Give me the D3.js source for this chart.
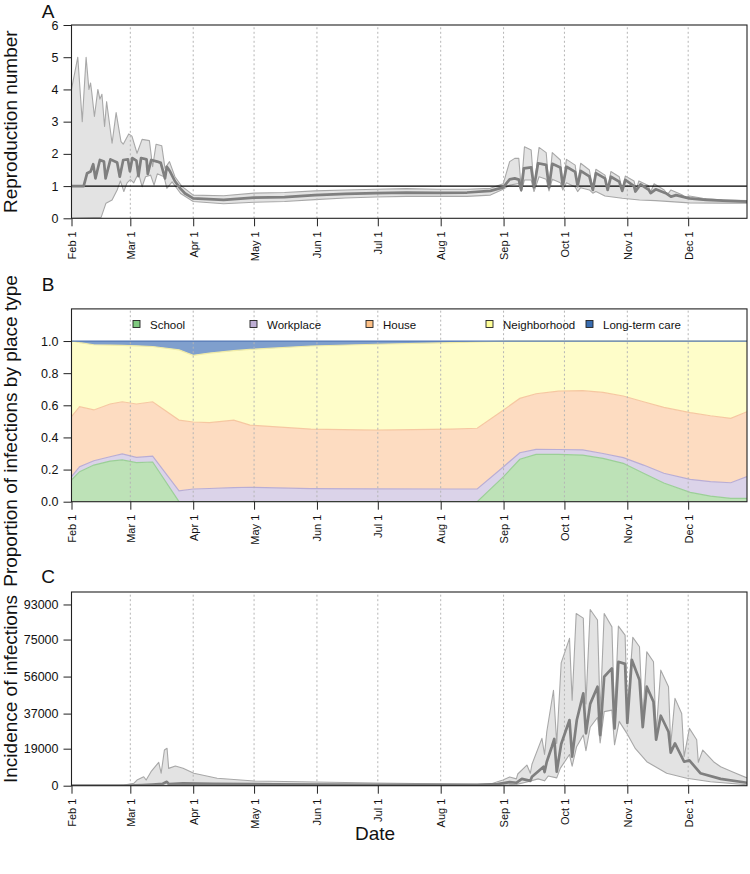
<!DOCTYPE html>
<html><head><meta charset="utf-8">
<script src="https://cdn.jsdelivr.net/npm/d3@7"></script>
<style>
body{margin:0;background:#fff}
text{font-family:"Liberation Sans",Arial,Helvetica,sans-serif;fill:#111}
</style>
</head><body>
<svg id="chart" width="750" height="874"></svg>
<script>
// ---------- data ----------
const startDay = Date.UTC(2020, 1, 1);
const lastDay = 333;
const monthLabels = ["Feb 1","Mar 1","Apr 1","May 1","Jun 1","Jul 1","Aug 1","Sep 1","Oct 1","Nov 1","Dec 1"];

// Panel A: reproduction number [day since Feb 1, value]
const rMedian = [[0,1.0],[6,1.0],[7.7,1.4],[9.4,1.45],[10.7,1.68],[11.8,1.24],[14,1.81],[16,1.76],[16.8,1.24],[19.2,1.83],[22.5,1.73],[23.8,1.29],[25.5,1.81],[27.8,1.83],[28.8,1.46],[30,1.87],[32,1.79],[33,1.31],[34.3,1.87],[37,1.83],[37.6,1.38],[39.3,1.81],[42.3,1.76],[44,1.72],[46.1,1.24],[47,1.6],[48.6,1.45],[51,1.15],[53.6,0.93],[56,0.77],[60,0.62],[75,0.57],[90,0.64],[105,0.66],[120,0.72],[135,0.76],[150,0.78],[165,0.8],[180,0.79],[195,0.8],[206.5,0.85],[212.8,0.96],[216,1.21],[218.5,1.24],[220.5,1.2],[221.7,0.88],[223,1.55],[226.6,1.58],[228,0.96],[230,1.71],[234,1.66],[235.4,0.96],[237,1.69],[241,1.58],[242.2,1.0],[244,1.6],[248.3,1.44],[249.5,1.0],[251,1.47],[255.3,1.3],[257,0.88],[258.5,1.4],[263,1.24],[264.3,0.88],[265.9,1.29],[270,1.14],[271.5,0.85],[273,1.19],[277.3,1.0],[278,0.83],[280.5,1.05],[284.6,0.88],[285.5,0.78],[288,0.9],[293,0.78],[295.5,0.67],[298,0.72],[304.6,0.62],[312.8,0.57],[321,0.55],[333,0.52]];
const rUpper = [[0,4.0],[3.1,5.0],[5.3,3.0],[7.2,5.0],[8.6,4.0],[9.4,4.2],[10,3.9],[11.3,3.16],[13,4.0],[14,3.7],[15,3.85],[16.3,2.85],[17.3,3.62],[20,2.33],[22,3.28],[24.4,2.38],[25.5,2.3],[28.2,2.62],[29.8,2.55],[32.3,2.02],[34.8,2.45],[38.4,2.41],[40,1.6],[41.7,2.3],[44.5,2.25],[46.1,1.55],[48.3,1.76],[51,1.29],[54.3,1.0],[60,0.72],[75,0.7],[90,0.78],[105,0.8],[120,0.85],[135,0.88],[150,0.9],[165,0.92],[180,0.9],[195,0.9],[206.5,0.93],[212.8,1.07],[216,1.76],[218.5,1.86],[220.5,1.86],[221.7,0.93],[223.3,2.22],[226.6,2.12],[228,0.96],[230.5,2.2],[234,2.04],[235.4,0.98],[237,2.04],[241,1.81],[242.2,1.02],[244,1.83],[248.3,1.65],[249.5,1.02],[251,1.71],[255.3,1.5],[257,0.9],[258.5,1.52],[263,1.34],[264.3,0.9],[265.9,1.45],[270,1.29],[271.5,0.88],[273,1.31],[277.3,1.16],[278.3,0.88],[279.7,1.16],[284.3,1.02],[285.5,0.82],[287.2,1.07],[292.2,0.88],[293.8,0.74],[295.5,0.88],[301.2,0.72],[302.8,0.64],[304.6,0.69],[311.2,0.62],[321,0.57],[333,0.55]];
const rLower = [[0,0],[14.6,0.03],[17,0.47],[20,0.57],[22.5,0.88],[24.1,1.16],[25.8,0.83],[27.4,1.1],[29,1.2],[30.7,1.1],[33,1.4],[34.8,0.98],[36.5,1.29],[39,1.34],[40.7,1.03],[42.3,1.38],[45.6,1.29],[47,0.93],[49.6,1.13],[53.8,0.77],[60,0.52],[75,0.45],[90,0.5],[105,0.52],[120,0.58],[135,0.63],[150,0.66],[165,0.68],[180,0.68],[195,0.68],[206.5,0.72],[212.8,0.9],[216,1.03],[220.5,1.08],[221.7,0.83],[223.3,1.19],[226.6,1.19],[228,0.83],[230.5,1.29],[234,1.21],[235.4,0.85],[237,1.21],[241,1.1],[242.2,0.88],[244,1.1],[248.3,0.97],[249.5,0.83],[251,0.95],[255.3,0.88],[257,0.78],[258.5,0.83],[263,0.69],[271.5,0.62],[280,0.57],[288,0.55],[304.6,0.48],[321,0.47],[333,0.47]];
const rTicks = [0,1,2,3,4,5,6];

// Panel B: proportion of infections by place type
const placeTypes = ["School","Workplace","House","Neighborhood","Long-term care"];
const bDays        = [0,4,11,19,25,32,40,53,60,68,80,88,118,150,187,200,213,221,229,240,252,262,272,282,292,305,315,325,333];
const school       = [.135,.187,.228,.253,.260,.243,.247,0,0,0,0,0,0,0,0,0,.156,.264,.295,.295,.290,.270,.239,.177,.116,.058,.035,.021,.021];
const workplace    = [.021,.031,.027,.027,.037,.033,.037,.067,.079,.082,.087,.090,.081,.080,.079,.079,.062,.041,.031,.030,.032,.030,.035,.051,.061,.081,.090,.097,.135];
const house        = [.373,.373,.316,.328,.325,.332,.338,.441,.417,.410,.421,.387,.371,.365,.373,.378,.353,.338,.346,.363,.369,.380,.384,.394,.410,.415,.410,.401,.404];
const neighborhood = [.471,.399,.406,.367,.351,.362,.344,.437,.415,.433,.432,.471,.517,.535,.538,.538,.429,.357,.328,.312,.309,.320,.342,.378,.413,.446,.465,.481,.440];
const longTermCare = [0,.010,.023,.025,.027,.030,.034,.055,.089,.075,.060,.052,.031,.020,.010,.005,0,0,0,0,0,0,0,0,0,0,0,0,0];
const bTicks = [0,0.2,0.4,0.6,0.8,1.0];
const bTickLabels = ["0.0","0.2","0.4","0.6","0.8","1.0"];

// Panel C: incidence of infections
const cMedian = [[0,0],[28,0],[35,300],[40,600],[45,1000],[47,2000],[48,800],[55,1200],[70,1000],[100,700],[150,500],[200,400],[210,800],[216,1800],[219.3,1500],[222,3500],[226.2,2500],[227,4600],[229,6400],[232.7,9700],[233.2,7000],[234.3,12300],[236.8,20000],[238,24000],[239.2,7200],[241.4,21400],[245.5,33700],[246.8,14900],[249.1,33700],[252.3,47400],[253.6,26900],[255.7,42000],[259.3,50800],[260.6,26000],[262.6,55900],[266.4,60200],[267.7,29400],[269.6,63600],[272.9,62500],[274,32200],[276.2,64600],[280,54200],[281.6,30000],[283.6,50800],[286.9,43100],[288.2,23600],[290.5,35900],[294.3,27700],[295.4,17000],[297.5,21700],[302,12300],[304.6,13000],[310,6400],[320,3500],[333,1500]];
const cUpper = [[0,0],[22,0],[26,300],[30.7,1200],[32.3,2900],[35.6,4600],[36.8,2900],[39.2,7200],[43,12000],[44.2,6400],[45.8,18300],[47.1,19200],[47.9,8900],[51.2,10100],[55,9000],[60.3,6400],[71.8,3800],[90,2400],[120,1900],[150,1400],[180,1000],[200,700],[207,1000],[212.7,2900],[216,4500],[219.3,3500],[220,6000],[224.5,10600],[226.2,6400],[227,11000],[231.9,24300],[233.2,16000],[234.3,27700],[237.6,49000],[239.2,21700],[241.4,63000],[245.5,75600],[246.8,43900],[248.8,88400],[252.3,86000],[253.6,42000],[255.7,90400],[259.3,85000],[260.6,37100],[262.6,88400],[266.4,81500],[267.7,35000],[269.6,81900],[272.9,77300],[274,37000],[276.7,76100],[280,71300],[281.6,34000],[283.6,68700],[286.9,63600],[288.2,27000],[290.5,59300],[294.3,50800],[295.4,21000],[297.5,44800],[300.8,37100],[302,14900],[304.6,29400],[308.2,23600],[309,12000],[311.2,18300],[316.5,12300],[320,9700],[326,7000],[333,4000]];
const cLower = [[0,0],[40,100],[60,300],[100,300],[200,200],[212,200],[220,800],[225,2000],[230,3500],[233.2,2500],[235,5000],[239.2,4000],[241,9000],[245.5,16000],[246.8,10000],[249,20000],[252.3,26000],[253.6,18000],[255.7,30000],[259.3,35000],[260.6,22000],[262.6,38000],[266.4,38800],[267.7,21000],[270,33000],[273.7,27000],[278,19000],[283.6,12300],[293.4,6400],[303.3,3800],[315,2000],[333,500]];
const cTicks = [0,19000,37000,56000,75000,93000];

// ---------- drawing ----------
const svg = d3.select("#chart");
const dayToDate = d => new Date(startDay + d * 86400000);
const monthDates = monthLabels.map((_, i) => new Date(Date.UTC(2020, 1 + i, 1)));
const x = d3.scaleUtc().domain([dayToDate(0), dayToDate(lastDay)]).range([71.5, 747]);

const colors = {
  fill: ["#bde2b7","#dbd3e9","#fddcc1","#fefdc9","#7f9fcd"],
  stroke: ["#9bcf97","#b9add4","#f6c7a1","#f0eba6","#5479b4"],
  key: ["#7FC97F","#BEAED4","#FDC086","#FFFF99","#386CB0"]
};

function panel(id, y, ticks, tickLabels, yTitle, titleY, letter, letterY) {
  const g = svg.append("g");
  const [yb, yt] = y.range();
  const [xl, xr] = x.range();
  g.append("clipPath").attr("id", "clip" + id)
    .append("rect").attr("x", xl).attr("y", yt).attr("width", xr - xl).attr("height", yb - yt);
  const plot = g.append("g").attr("clip-path", `url(#clip${id})`);
  const top = g.append("g");
  // y axis
  const ya = top.append("g").attr("transform", `translate(${xl},0)`)
    .call(d3.axisLeft(y).tickValues(ticks).tickFormat((d, i) => tickLabels[i]).tickSize(8).tickPadding(5));
  ya.select(".domain").remove();
  ya.selectAll("text").style("font-size", "12.5px").style("font-family", '"Liberation Sans",Arial,sans-serif');
  ya.selectAll("line").attr("stroke", "#222");
  // x axis
  const xa = top.append("g").attr("transform", `translate(0,${yb})`)
    .call(d3.axisBottom(x).tickValues(monthDates).tickFormat((d, i) => monthLabels[i]).tickSize(8).tickPadding(0));
  xa.select(".domain").remove();
  xa.selectAll("line").attr("stroke", "#222");
  xa.selectAll("text")
    .attr("transform", "rotate(-90)")
    .attr("x", -13).attr("y", 0).attr("dy", "0.36em")
    .attr("text-anchor", "end")
    .style("font-size", "11px").style("font-family", '"Liberation Sans",Arial,sans-serif');
  // titles
  svg.append("text").attr("transform", `translate(17,${titleY}) rotate(-90)`)
    .attr("text-anchor", "middle").style("font-size", "19px").text(yTitle);
  svg.append("text").attr("x", 48).attr("y", letterY).attr("text-anchor", "middle")
    .style("font-size", "19px").text(letter);
  return { plot, top, yb, yt, xl, xr };
}

function grid(layer, yb, yt) {
  layer.append("g").selectAll("line").data(monthDates.slice(1)).join("line")
    .attr("x1", d => x(d)).attr("x2", d => x(d)).attr("y1", yb).attr("y2", yt)
    .attr("stroke", "#b5b5b5").attr("stroke-width", 1).attr("stroke-dasharray", "2,2.5");
}

function box(layer, p) {
  layer.append("rect").attr("x", p.xl).attr("y", p.yt).attr("width", p.xr - p.xl).attr("height", p.yb - p.yt)
    .attr("fill", "none").attr("stroke", "#222").attr("stroke-width", 1.1);
}

function band(layer, y, lower, upper) {
  const line = d3.line().x(p => x(dayToDate(p[0]))).y(p => y(p[1]));
  layer.append("path").attr("d", line(upper.concat(lower.slice().reverse())) + "Z")
    .attr("fill", "#e3e3e3").attr("stroke", "none");
  [upper, lower].forEach(s => layer.append("path").attr("d", line(s))
    .attr("fill", "none").attr("stroke", "#a8a8a8").attr("stroke-width", 1.1).attr("stroke-linejoin", "round"));
}

function medianLine(layer, y, median) {
  const line = d3.line().x(p => x(dayToDate(p[0]))).y(p => y(p[1]));
  layer.append("path").attr("d", line(median)).attr("fill", "none")
    .attr("stroke", "#7f7f7f").attr("stroke-width", 2.7).attr("stroke-linejoin", "round");
}

// Panel A
const yA = d3.scaleLinear().domain([0, 6]).range([218.3, 25]);
const pA = panel("A", yA, rTicks, rTicks.map(String), "Reproduction number", 121.7, "A", 18);
band(pA.plot, yA, rLower, rUpper);
grid(pA.plot, 218.3, 25);
pA.plot.append("line").attr("x1", pA.xl).attr("x2", pA.xr).attr("y1", yA(1)).attr("y2", yA(1))
  .attr("stroke", "#000").attr("stroke-width", 1.2);
medianLine(pA.plot, yA, rMedian);
box(pA.top, pA);

// Panel B
const yB = d3.scaleLinear().domain([0, 1.2]).range([501.7, 308.9]);
const pB = panel("B", yB, bTicks, bTickLabels, "Proportion of infections by place type", 431, "B", 291);
const bRows = bDays.map((d, i) => ({ day: d, School: school[i], Workplace: workplace[i], House: house[i],
  Neighborhood: neighborhood[i], "Long-term care": longTermCare[i] }));
const stacked = d3.stack().keys(placeTypes)(bRows);
const area = d3.area().x(d => x(dayToDate(d.data.day))).y0(d => yB(d[0])).y1(d => yB(d[1]));
const topLine = d3.line().x(d => x(dayToDate(d.data.day))).y(d => yB(d[1]));
pB.plot.selectAll("path.area").data(stacked).join("path").attr("class", "area")
  .attr("d", area).attr("fill", (d, i) => colors.fill[i]).attr("stroke", "none");
pB.plot.selectAll("path.edge").data(stacked).join("path").attr("class", "edge")
  .attr("d", topLine).attr("fill", "none").attr("stroke", (d, i) => colors.stroke[i]).attr("stroke-width", 1.2);
grid(pB.plot, 501.7, 308.9);
box(pB.top, pB);
// legend
const legX = [133, 250, 366, 486, 586];
const leg = pB.top.append("g");
placeTypes.forEach((t, i) => {
  leg.append("rect").attr("x", legX[i]).attr("y", 320.5).attr("width", 7).attr("height", 7)
    .attr("fill", colors.key[i]).attr("stroke", "#222").attr("stroke-width", 0.9);
  leg.append("text").attr("x", legX[i] + 17).attr("y", 328.5).style("font-size", "11.5px").text(t);
});

// Panel C
const yC = d3.scaleLinear().domain([0, 99400]).range([785.7, 592]);
const pC = panel("C", yC, cTicks, cTicks.map(String), "Incidence of infections", 689, "C", 583);
band(pC.plot, yC, cLower, cUpper);
grid(pC.plot, 785.7, 592);
medianLine(pC.plot, yC, cMedian);
box(pC.top, pC);

svg.append("text").attr("x", 375).attr("y", 840).attr("text-anchor", "middle")
  .style("font-size", "19px").text("Date");
</script>
</body></html>
